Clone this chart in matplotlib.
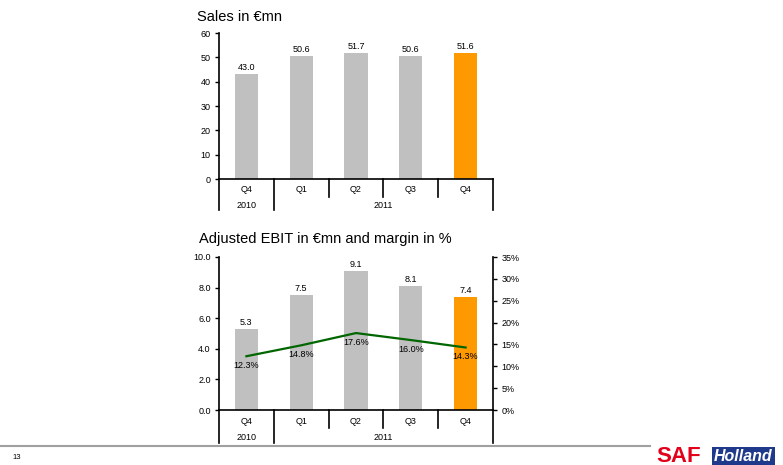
import numpy as np
import matplotlib
matplotlib.use("Agg")
import matplotlib.pyplot as plt
import matplotlib.transforms as mtransforms
from matplotlib.lines import Line2D

plt.rcParams['font.family'] = ['Liberation Sans', 'DejaVu Sans']

quarters = ["Q4", "Q1", "Q2", "Q3", "Q4"]
years = ["2010", "2011"]
year_span = [1, 4]  # number of quarters per year group
sales = [43.0, 50.6, 51.7, 50.6, 51.6]
ebit = [5.3, 7.5, 9.1, 8.1, 7.4]
margin = [12.3, 14.8, 17.6, 16.0, 14.3]

GREY = "#C0C0C0"
ORANGE = "#FF9900"
GREEN = "#006600"
colors = [GREY] * 4 + [ORANGE]

W, H = 783, 465
fig = plt.figure(figsize=(W / 100, H / 100), dpi=100)


def px_axes(x0, y0, x1, y1):
    return fig.add_axes([x0 / W, 1 - y1 / H, (x1 - x0) / W, (y1 - y0) / H])


def category_table(ax, row1_px, row2_px, q_px, yr_px):
    # quarter / year grid drawn below the x axis
    trans = mtransforms.blended_transform_factory(ax.transData, ax.transAxes)
    hpx = ax.get_position().height * H
    r1 = -row1_px / hpx
    r2 = -row2_px / hpx
    n = len(quarters)
    bounds = np.arange(n + 1) - 0.5
    year_edges = np.cumsum([0] + year_span) - 0.5
    for b in bounds:
        bottom = r2 if b in year_edges else r1
        ax.add_line(Line2D([b, b], [0, bottom], transform=trans, color="black",
                           lw=1.2, clip_on=False))
    for i, q in enumerate(quarters):
        ax.text(i, -q_px / hpx, q, transform=trans, ha="center", va="center", fontsize=6.5)
    for k, yr in enumerate(years):
        mid = (year_edges[k] + year_edges[k + 1]) / 2
        ax.text(mid, -yr_px / hpx, yr, transform=trans, ha="center",
                va="center", fontsize=6.5)


x = np.arange(len(quarters))

# Sales chart
ax1 = px_axes(219, 33, 493, 179)
ax1.bar(x, sales, width=0.42, color=colors)
for xi, v in zip(x, sales):
    ax1.annotate(f"{v:.1f}", (xi, v), xytext=(0, 1.5), textcoords="offset points",
                 ha="center", va="bottom", fontsize=6.5)
ax1.set_xlim(-0.5, 4.5)
ax1.set_ylim(0, 60)
ax1.set_yticks(range(0, 61, 10))
ax1.set_xticks([])
for s in ("top", "right"):
    ax1.spines[s].set_visible(False)
ax1.spines["left"].set_linewidth(1.2)
ax1.spines["bottom"].set_linewidth(1.2)
ax1.tick_params(axis="y", labelsize=6.5, length=3, width=1, pad=3)
category_table(ax1, 18, 31, 10, 26)
fig.text(197 / W, 1 - 17 / H, "Sales in €mn", fontsize=10.5, va="center", ha="left")

# Adjusted EBIT chart with margin line
ax2 = px_axes(219, 257, 493, 410)
ax2.bar(x, ebit, width=0.42, color=colors)
for xi, v in zip(x, ebit):
    ax2.annotate(f"{v:.1f}", (xi, v), xytext=(0, 1.5), textcoords="offset points",
                 ha="center", va="bottom", fontsize=6.5)
ax2.set_xlim(-0.5, 4.5)
ax2.set_ylim(0, 10)
ax2.set_yticks(np.arange(0, 10.1, 2))
ax2.set_yticklabels([f"{t:.1f}" for t in np.arange(0, 10.1, 2)])
ax2.set_xticks([])
ax2.spines["top"].set_visible(False)
ax2.spines["right"].set_visible(False)
ax2.spines["left"].set_linewidth(1.2)
ax2.spines["bottom"].set_linewidth(1.2)
ax2.tick_params(axis="y", labelsize=6.5, length=3, width=1, pad=3)

ax3 = ax2.twinx()
ax3.plot(x, margin, color=GREEN, lw=1.6)
for xi, v in zip(x, margin):
    ax3.annotate(f"{v:.1f}%", (xi, v), xytext=(0, -6.5), textcoords="offset points",
                 ha="center", va="center", fontsize=6.5)
ax3.set_ylim(0, 35)
ax3.set_yticks(range(0, 36, 5))
ax3.set_yticklabels([f"{t}%" for t in range(0, 36, 5)])
ax3.spines["top"].set_visible(False)
ax3.spines["left"].set_visible(False)
ax3.spines["bottom"].set_visible(False)
ax3.spines["right"].set_linewidth(1.2)
ax3.tick_params(axis="y", labelsize=6.5, length=3, width=1, pad=3)
category_table(ax2, 18, 33, 11, 27)
fig.text(199 / W, 1 - 239 / H, "Adjusted EBIT in €mn and margin in %", fontsize=10.5,
         va="center", ha="left")

# footer
fig.add_artist(Line2D([0, 650 / W], [1 - 446 / H, 1 - 446 / H], color="#A0A0A0", lw=1.5))
fig.text(12 / W, 1 - 457 / H, "13", fontsize=5.5, va="center", ha="left")
fig.text(656 / W, 1 - 456 / H, "SAF", fontsize=16, fontweight="bold",
         color="#E2001A", va="center", ha="left")
fig.text(714 / W, 1 - 456 / H, "Holland", fontsize=11.5, fontweight="bold", style="italic",
         color="white", va="center", ha="left",
         bbox=dict(boxstyle="square,pad=0.12", fc="#1F3A8A", ec="none"))

fig.savefig("out.png", dpi=100)
